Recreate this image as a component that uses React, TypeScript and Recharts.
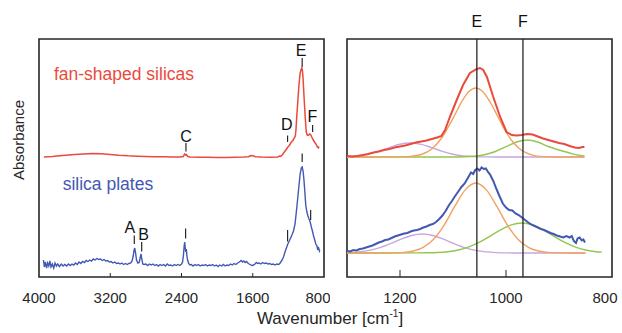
import { LineChart, Line, XAxis, YAxis, ReferenceLine, ReferenceArea, ReferenceDot } from "recharts";

const FONT = "'Liberation Sans', Arial, Helvetica, sans-serif";
const RED = "#ea4a3d";
const BLUE = "#4358b2";
const ORANGE = "#f4a160";
const GREEN = "#92c650";
const PURPLE = "#c8a6e0";
const INK = "#262626";

// wavenumber [cm-1], absorbance (arb. units, offset per trace)
const fanBroad = [
  [3945, 120], [3900, 120.3], [3850, 120.5], [3800, 121], [3700, 121.8], [3600, 122.5],
  [3500, 123], [3400, 123.4], [3300, 123.2], [3200, 122.6], [3100, 121.8], [3000, 121.2],
  [2900, 120.8], [2800, 120.5], [2700, 120.3], [2600, 120.2], [2500, 120.1], [2420, 120],
  [2380, 120.5], [2365, 123], [2355, 122], [2345, 122.5], [2330, 120.5], [2300, 120],
  [2200, 119.8], [2100, 119.8], [2000, 119.6], [1900, 119.6], [1800, 119.8], [1700, 120],
  [1650, 120.3], [1620, 121.5], [1600, 121.2], [1570, 120.3], [1500, 120], [1400, 119.8],
  [1320, 120],
];

const fanFine = [
  [1300, 121], [1290, 120.5], [1280, 121], [1270, 122], [1260, 123], [1250, 124.5],
  [1240, 125.5], [1230, 127], [1220, 128], [1210, 129.5], [1200, 130.5], [1190, 131.5],
  [1180, 133], [1170, 134.5], [1160, 135.5], [1150, 136.5], [1140, 138], [1130, 139.5],
  [1122, 141], [1115, 147], [1106, 160], [1093, 177], [1081, 192], [1068, 204],
  [1055, 208], [1049, 209], [1043, 207], [1036, 200], [1024, 180], [1011, 160],
  [999, 145], [989, 142], [980, 141.5], [970, 142], [960, 143], [950, 142.5],
  [940, 140.5], [930, 138.5], [920, 137], [910, 135.5], [900, 134], [890, 133],
  [880, 131], [870, 129.5], [862, 129], [856, 130], [852, 130],
];

const platesWide = [
  [3950, 17], [3940, 10], [3928, 15], [3915, 9], [3903, 14], [3890, 11], [3878, 16], [3865, 10],
  [3850, 13], [3835, 9], [3820, 14], [3805, 11], [3790, 13], [3770, 10.5], [3750, 13], [3730, 11],
  [3710, 12.5], [3690, 11], [3670, 13], [3650, 11.5], [3630, 13], [3610, 12], [3590, 14], [3570, 12.5],
  [3550, 15], [3530, 13.5], [3510, 15.5], [3490, 14.5], [3470, 16.5], [3450, 15.5], [3430, 17], [3410, 16],
  [3390, 18], [3370, 17], [3350, 18.5], [3330, 17.5], [3310, 18], [3290, 16.5], [3270, 17.5], [3250, 16],
  [3230, 16.5], [3210, 15], [3190, 15.5], [3170, 14], [3150, 15], [3130, 13.5], [3110, 14], [3090, 13],
  [3070, 14], [3050, 12.5], [3030, 13.5], [3010, 12.5], [2990, 13.5], [2970, 14], [2955, 16], [2942, 21],
  [2932, 27], [2925, 29], [2917, 25], [2905, 17], [2890, 14], [2875, 14.5], [2862, 20], [2854, 23],
  [2846, 18], [2835, 13], [2820, 12.5], [2800, 13], [2780, 11.5], [2760, 13], [2740, 12], [2720, 13],
  [2700, 11.5], [2680, 12.5], [2660, 11], [2640, 12.5], [2620, 11.5], [2600, 12.5], [2580, 11], [2560, 13],
  [2540, 11.5], [2520, 12], [2500, 11], [2480, 12.5], [2460, 11.5], [2440, 12.5], [2420, 11.5], [2400, 13],
  [2388, 15], [2378, 22], [2370, 31], [2364, 35], [2358, 29], [2352, 25], [2346, 28], [2340, 22],
  [2332, 17], [2320, 13.5], [2305, 12], [2290, 12.5], [2270, 11], [2250, 12.5], [2230, 11.5], [2210, 12.5],
  [2190, 11], [2170, 12], [2150, 11.5], [2130, 12.5], [2110, 11], [2090, 12], [2070, 11.5], [2050, 12.5],
  [2030, 11], [2010, 12], [1990, 10.5], [1970, 12], [1950, 11], [1930, 12.5], [1910, 11], [1890, 12],
  [1870, 11.5], [1850, 13], [1830, 12], [1810, 13.5], [1790, 12.5], [1770, 14], [1750, 15], [1730, 16.5],
  [1715, 15], [1700, 16], [1685, 14.5], [1670, 15.5], [1650, 13.5], [1630, 12.5], [1610, 11.5], [1590, 12],
  [1575, 13], [1560, 14.5], [1545, 13.5], [1530, 14], [1510, 13], [1490, 14.5], [1470, 13.5], [1450, 14],
  [1430, 13], [1410, 13.5], [1390, 12.5], [1370, 13], [1350, 12], [1330, 13], [1315, 12.5], [1300, 13],
  [1285, 15], [1270, 17], [1255, 20], [1238, 25], [1222, 29], [1206, 33], [1190, 36], [1175, 39],
  [1160, 42], [1143, 46], [1125, 53], [1106, 69], [1087, 86], [1068, 103], [1055, 109], [1045, 110],
  [1035, 106], [1025, 97], [1015, 85], [1005, 72], [992, 65], [980, 61], [968, 58], [955, 55],
  [942, 50], [930, 46], [917, 41], [904, 37], [892, 33], [879, 31], [870, 27], [864, 30],
  [857, 28], [851, 26], [847, 27],
];

const platesFine = [
  [1300, 26], [1294, 25.5], [1288, 27], [1282, 26.5], [1276, 28], [1270, 28.5], [1264, 29.5], [1258, 30.5],
  [1252, 31.5], [1246, 33], [1240, 34.5], [1234, 35.5], [1228, 37], [1222, 37.5], [1216, 39], [1210, 40.5],
  [1204, 41.5], [1198, 42.5], [1192, 43.5], [1186, 44], [1180, 45.5], [1174, 46.5], [1168, 47], [1162, 48],
  [1156, 49.5], [1150, 50.5], [1144, 52], [1138, 53], [1132, 55], [1126, 58], [1120, 61.5], [1114, 66],
  [1108, 71.5], [1102, 76], [1096, 81], [1090, 85.5], [1084, 90], [1078, 93.5], [1072, 99], [1066, 104.5],
  [1062, 103], [1058, 107], [1054, 108.5], [1050, 106.5], [1046, 109.5], [1042, 108], [1038, 108.5], [1034, 105],
  [1030, 102.5], [1024, 96], [1018, 88], [1012, 80.5], [1006, 73.5], [1000, 69.5], [994, 67], [988, 66.5],
  [982, 63.5], [976, 62], [970, 59.5], [964, 57], [958, 54.5], [952, 52.5], [946, 51], [940, 49.5],
  [934, 48], [928, 47], [922, 45.5], [916, 44], [910, 43], [904, 41.5], [898, 40.5], [892, 39.5],
  [886, 41], [880, 39.5], [876, 41], [872, 36], [868, 34], [865, 38.5], [861, 39.5], [857, 36.5],
  [854, 37.5], [851, 34.5],
];

// fitted components (top: fan-shaped, bottom: plates)
const fanPurple = [
  [1300, 120.4], [1280, 121.2], [1260, 122.9], [1240, 125.8], [1220, 129.4], [1200, 132.7], [1181, 134],
  [1160, 132.6], [1140, 129.3], [1120, 125.7], [1100, 122.8], [1080, 121.1], [1060, 120.4], [1040, 120.1],
  [1000, 120], [950, 120], [900, 120], [852, 120],
];
const fanOrange = [
  [1300, 120], [1200, 120.1], [1180, 120.6], [1160, 122.5], [1140, 128], [1120, 140], [1100, 158.7],
  [1080, 178.4], [1070, 185.4], [1057, 189], [1045, 186], [1030, 175], [1015, 160], [1000, 145],
  [985, 133.7], [970, 126.5], [950, 121.9], [930, 120.4], [900, 120], [852, 120],
];
const fanGreen = [
  [1300, 120], [1100, 120], [1080, 120.2], [1060, 120.8], [1040, 122.3], [1020, 125.5], [1000, 130.3],
  [980, 135], [960, 137], [940, 135], [920, 130.5], [900, 127], [880, 124], [860, 121.5], [852, 121],
];
const platesPurple = [
  [1300, 24.3], [1278, 25.1], [1258, 26.6], [1238, 29.3], [1218, 33.3], [1198, 37.8], [1178, 41.5],
  [1158, 43], [1138, 41.5], [1118, 37.8], [1098, 33.3], [1078, 29.3], [1058, 26.6], [1038, 25.1],
  [1018, 24.4], [998, 24.1], [960, 24], [900, 24], [850, 24],
];
const platesOrange = [
  [1300, 24], [1220, 24], [1197, 24.4], [1177, 25.7], [1157, 29.3], [1137, 37.4], [1117, 51.6],
  [1097, 70.3], [1077, 87.1], [1057, 94], [1037, 87.1], [1017, 70.3], [997, 51.6], [977, 37.4],
  [957, 29.3], [937, 25.7], [917, 24.4], [897, 24.1], [850, 24],
];
const platesGreen = [
  [1300, 24], [1170, 24.1], [1150, 24.2], [1130, 24.5], [1110, 25.3], [1090, 27], [1070, 30.1],
  [1050, 34.8], [1030, 40.9], [1010, 47.2], [990, 52.1], [970, 54], [950, 52.1], [930, 47.2],
  [910, 40.9], [890, 34.8], [870, 30.1], [850, 27], [830, 25.3], [819, 24.9],
];

const wideTicks = [4000, 3200, 2400, 1600, 800];
const wideInner = [3200, 2400, 1600];
const zoomTicks = [1200, 1000, 800];
const zoomInner = [1200, 1000];

// short peak markers: wavenumber, from, to
const peakMarks = [
  [1045, 210, 219], [1209, 135, 141.5], [928, 145, 152], [2350, 125.5, 134],
  [1045, 115, 123.5], [1209, 35.5, 47], [950, 57, 67], [2354, 38.5, 48.5],
  [2930, 33, 41.5], [2847, 25.5, 35],
];
const peakLetters = [
  ["E", 1058, 227], ["D", 1217, 153], ["F", 930, 161], ["C", 2350, 141],
  ["A", 2979, 49.5], ["B", 2827, 43],
];
const bandLines = [["E", 1055], ["F", 968]];

const traceLabels = [
  ["fan-shaped silicas", 3046, 203.5, RED],
  ["silica plates", 3226, 93.3, BLUE],
];

const pts = (rows: number[][]) => rows.map(([wn, a]) => ({ wn, a }));
const fanAll = pts([...fanBroad, ...fanFine]);

const Tick = (props: any) => {
  const { x, y, payload, edgeShift } = props;
  const dx = edgeShift && payload.value === 800 ? -5 : 0;
  return (
    <text x={x + dx} y={y} dy="0.71em" textAnchor="middle" fill={INK} fontSize={15} fontFamily={FONT}>
      {payload.value}
    </text>
  );
};

const trace = (key: string, data: any[], color: string, width: number, type: any = "linear") => (
  <Line
    key={key}
    data={data}
    dataKey="a"
    type={type}
    stroke={color}
    strokeWidth={width}
    dot={false}
    isAnimationActive={false}
  />
);

export default function App() {
  return (
    <div style={{ position: "absolute", left: 0, top: 0, width: 622, height: 333, background: "#fff", fontFamily: FONT }}>
      <div style={{ position: "absolute", left: 0, top: 0 }}>
        <LineChart width={330} height={333} margin={{ top: 39, right: 6, bottom: 26, left: 39 }}>
          <XAxis
            type="number"
            dataKey="wn"
            domain={[800, 4000]}
            reversed
            allowDataOverflow
            ticks={wideTicks}
            axisLine={false}
            tickLine={false}
            tickSize={5}
            tickMargin={10}
            height={30}
            tick={<Tick />}
          />
          <YAxis type="number" domain={[0, 238]} hide allowDataOverflow />
          <ReferenceArea x1={800} x2={4000} y1={0} y2={238} fill="none" stroke={INK} strokeWidth={1.6} />
          {wideInner.map((v) => (
            <ReferenceLine key={v} segment={[{ x: v, y: 0 }, { x: v, y: 4 }]} stroke={INK} strokeWidth={1} />
          ))}
          {trace("fan", fanAll, RED, 1.5)}
          {trace("plates", pts(platesWide), BLUE, 1.4)}
          {peakMarks.map(([wn, a, b], i) => (
            <ReferenceLine key={"m" + i} segment={[{ x: wn, y: a }, { x: wn, y: b }]} stroke={INK} strokeWidth={1.2} />
          ))}
          {peakLetters.map(([t, wn, a]) => (
            <ReferenceDot
              key={"l" + t}
              x={wn as number}
              y={a as number}
              r={0}
              fill="none"
              stroke="none"
              label={{ value: t, position: "center", fill: "#111", fontSize: 16, fontFamily: FONT }}
            />
          ))}
          {traceLabels.map(([t, wn, a, c]) => (
            <ReferenceDot
              key={t as string}
              x={wn as number}
              y={a as number}
              r={0}
              fill="none"
              stroke="none"
              label={{ value: t, position: "center", fill: c as string, fontSize: 17.5, fontFamily: FONT }}
            />
          ))}
        </LineChart>
      </div>
      <div style={{ position: "absolute", left: 330, top: 0 }}>
        <LineChart width={292} height={333} margin={{ top: 39, right: 10, bottom: 26, left: 17 }}>
          <XAxis
            type="number"
            dataKey="wn"
            domain={[800, 1300]}
            reversed
            allowDataOverflow
            ticks={zoomTicks}
            axisLine={false}
            tickLine={false}
            tickSize={5}
            tickMargin={10}
            height={30}
            tick={<Tick edgeShift />}
          />
          <YAxis type="number" domain={[0, 238]} hide allowDataOverflow />
          <ReferenceArea x1={800} x2={1300} y1={0} y2={238} fill="none" stroke={INK} strokeWidth={1.6} />
          {zoomInner.map((v) => (
            <ReferenceLine key={v} segment={[{ x: v, y: 0 }, { x: v, y: 7 }]} stroke={INK} strokeWidth={1} />
          ))}
          {trace("fp", pts(fanPurple), PURPLE, 1.4, "monotone")}
          {trace("fg", pts(fanGreen), GREEN, 1.4, "monotone")}
          {trace("fo", pts(fanOrange), ORANGE, 1.4, "monotone")}
          {trace("pp", pts(platesPurple), PURPLE, 1.4, "monotone")}
          {trace("pg", pts(platesGreen), GREEN, 1.4, "monotone")}
          {trace("po", pts(platesOrange), ORANGE, 1.4, "monotone")}
          {trace("fanZoom", fanAll, RED, 2)}
          {trace("platesZoom", pts(platesFine), BLUE, 2)}
          {bandLines.map(([t, wn]) => (
            <ReferenceLine
              key={t as string}
              x={wn as number}
              stroke={INK}
              strokeWidth={1.3}
              label={{ value: t, position: "top", offset: 12, fill: "#111", fontSize: 16, fontFamily: FONT }}
            />
          ))}
        </LineChart>
      </div>
      <div
        style={{
          position: "absolute",
          left: -41,
          top: 130,
          width: 120,
          height: 20,
          lineHeight: "20px",
          textAlign: "center",
          fontSize: 15,
          color: INK,
          transform: "rotate(-90deg)",
        }}
      >
        Absorbance
      </div>
      <div
        style={{
          position: "absolute",
          left: 230,
          top: 309,
          width: 200,
          height: 20,
          lineHeight: "20px",
          textAlign: "center",
          fontSize: 17,
          color: INK,
          whiteSpace: "nowrap",
        }}
      >
        Wavenumber [cm<span style={{ fontSize: 10, position: "relative", top: -7 }}>-1</span>]
      </div>
    </div>
  );
}
